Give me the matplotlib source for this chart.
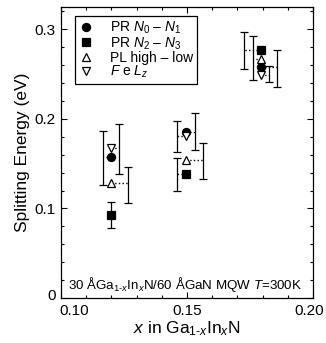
import matplotlib
matplotlib.use("Agg")
import matplotlib.pyplot as plt
import matplotlib.transforms as mtransforms
from matplotlib.ticker import MultipleLocator, FixedLocator, FuncFormatter

plt.rcParams['font.family'] = ['Liberation Sans', 'DejaVu Sans']
plt.rcParams['mathtext.fontset'] = 'custom'
plt.rcParams['mathtext.rm'] = 'Liberation Sans'
plt.rcParams['mathtext.it'] = 'Liberation Sans:italic'
plt.rcParams['mathtext.bf'] = 'Liberation Sans:bold'

# ---- data ----
labels = ["PR $N_0$ \u2013 $N_1$", "PR $N_2$ \u2013 $N_3$", "PL high \u2013 low", "$F$ e $L_z$"]
markers = ["o", "s", "^", "v"]
filled = [True, True, False, False]

x_pos = [0.1197, 0.1496, 0.1794]

# splitting energies (eV) for each series at the three compositions
y_pr01 = [0.157, 0.185, 0.258]
y_pr23 = [0.093, 0.138, 0.277]
y_pl = [0.128, 0.154, 0.267]
y_fel = [0.167, 0.181, 0.249]

# error-bar positions (offset x) and bounds
ex_pr01 = [0.1165, 0.1532, 0.1858]
lo_pr01 = [0.126, 0.165, 0.236]
hi_pr01 = [0.187, 0.206, 0.277]

ex_pr23 = [0.1197, 0.1462, 0.1728]
lo_pr23 = [0.0785, 0.120, 0.2555]
hi_pr23 = [0.1076, 0.156, 0.2975]

ex_pl = [0.1267, 0.1562, 0.1763]
lo_pl = [0.1065, 0.1326, 0.2436]
hi_pl = [0.1467, 0.1735, 0.293]

ex_fel = [0.1230, 0.1462, 0.1827]
lo_fel = [0.139, 0.163, 0.2406]
hi_fel = [0.194, 0.198, 0.2592]

x_ticks = [0.10, 0.15, 0.20]
y_ticks = [0.0, 0.1, 0.2, 0.3]

series = [
    (y_pr01, ex_pr01, lo_pr01, hi_pr01),
    (y_pr23, ex_pr23, lo_pr23, hi_pr23),
    (y_pl, ex_pl, lo_pl, hi_pl),
    (y_fel, ex_fel, lo_fel, hi_fel),
]

fig = plt.figure(figsize=(3.26, 3.43), dpi=100)
ax = fig.add_axes([0.187, 0.131, 0.773, 0.849])

for (ys, exs, los, his), lab, mk, fl in zip(series, labels, markers, filled):
    yerr = [[y - l for y, l in zip(ys, los)], [h - y for y, h in zip(ys, his)]]
    ax.errorbar(exs, ys, yerr=yerr, fmt='none', ecolor='black', elinewidth=0.9,
                capsize=3.2, capthick=0.9, zorder=2)
    for x, ex, y in zip(x_pos, exs, ys):
        if abs(x - ex) > 1e-6:
            ax.plot([x, ex], [y, y], linestyle=':', color='black', lw=1.0, zorder=2)
    ax.plot(x_pos, ys, linestyle='none', marker=mk, markersize=5.8,
            markerfacecolor='black' if fl else 'white', markeredgecolor='black',
            markeredgewidth=0.9, label=lab, zorder=3)

ax.set_xlim(0.10, 0.20)
ax.set_ylim(0, 0.325)

ax.xaxis.set_major_locator(FixedLocator(x_ticks))
ax.xaxis.set_minor_locator(MultipleLocator(0.01))
ax.yaxis.set_major_locator(FixedLocator(y_ticks))
ax.yaxis.set_minor_locator(MultipleLocator(0.02))
ax.xaxis.set_major_formatter(FuncFormatter(lambda v, p: f"{v:.2f}"))
ax.yaxis.set_major_formatter(FuncFormatter(lambda v, p: "0" if abs(v) < 1e-9 else f"{v:.1f}"))

ax.tick_params(which='both', direction='in', top=True, right=True, width=0.8, labelsize=11)
ax.tick_params(which='major', length=4.5, pad=4)
ax.tick_params(which='minor', length=2.5)
for sp in ax.spines.values():
    sp.set_linewidth(0.9)

fig.canvas.draw()
xt = ax.get_xticklabels()
xt[0].set_horizontalalignment('left')
xt[0].set_transform(xt[0].get_transform() +
                    mtransforms.ScaledTranslation(-2 / 100, 0, fig.dpi_scale_trans))
xt[-1].set_transform(xt[-1].get_transform() +
                     mtransforms.ScaledTranslation(-4 / 100, 0, fig.dpi_scale_trans))
yt = ax.get_yticklabels()
yt[0].set_transform(yt[0].get_transform() +
                    mtransforms.ScaledTranslation(0, 4 / 100, fig.dpi_scale_trans))

ax.set_ylabel("Splitting Energy (eV)", fontsize=12.5, labelpad=3)
ax.set_xlabel("$x$ in Ga$_{1\u2010x}$In$_x$N", fontsize=12.5, labelpad=1)

ax.text(0.028, 0.045, "30 \u00c5Ga$_{1\u2010x}$In$_x$N/60 \u00c5GaN MQW $T$=300K",
        transform=ax.transAxes, fontsize=9.6, ha='left', va='center')

leg = ax.legend(loc='upper left', bbox_to_anchor=(0.056, 0.969), borderaxespad=0,
                fontsize=10, handlelength=1.0, handletextpad=1.2, borderpad=0.3,
                labelspacing=-0.08, frameon=True, fancybox=False, framealpha=1,
                edgecolor='black')
leg.get_frame().set_linewidth(0.9)

fig.savefig("out.png", dpi=100)
